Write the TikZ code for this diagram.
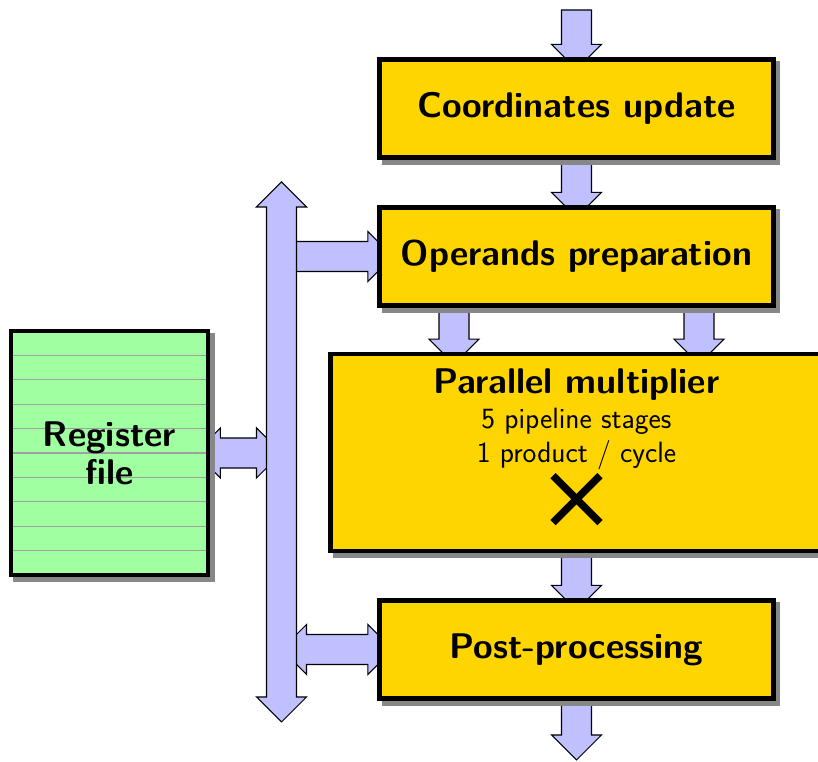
\documentclass[tikz,border=0pt]{standalone}
\usepackage{fontspec}
\usetikzlibrary{calc, shadows, backgrounds}
\definecolor{StageYellow}{RGB}{255, 213, 0}
\definecolor{RegGreen}{RGB}{160, 255, 160}
\definecolor{BusBlue}{RGB}{192, 192, 255}
\definecolor{RegLine}{RGB}{160, 160, 160}

\tikzset{
  stagetext/.style={font=\fontsize{20.3}{21.8}\selectfont\sffamily\bfseries},
  subtext/.style={font=\fontsize{16.7}{20}\selectfont\sffamily},
  stage/.style={rectangle, draw, line width=2.6pt, fill=StageYellow, stagetext,
    minimum width=7.87cm, minimum height=1.97cm,
    drop shadow={shadow xshift=0.09cm, shadow yshift=-0.09cm, fill=black!47, draw=black!47, opacity=1}},
  regbox/.style={stage, fill=RegGreen, align=center,
    minimum width=3.94cm, minimum height=4.88cm,
    path picture={
      \foreach \k in {1,...,9}
        \draw[RegLine, line width=0.6pt]
          ($(path picture bounding box.north west)!\k/10!(path picture bounding box.south west)$) --
          ($(path picture bounding box.north east)!\k/10!(path picture bounding box.south east)$);
    }},
  fat/.style={draw=black, line width=0.6pt, fill=BusBlue, line join=miter},
}

% wide arrow from #1 (tail) to #2 (tip)
\newcommand{\fatarrow}[2]{%
  \draw[fat] let \p1=(#1), \p2=(#2), \n1={atan2(\y2-\y1,\x2-\x1)},
      \n2={veclen(\x2-\x1,\y2-\y1)} in
    [shift={(\p1)}, rotate=\n1]
    (0cm,-0.3cm) -- ({\n2-0.5cm},-0.3cm) -- ({\n2-0.5cm},-0.5cm) -- (\n2,0cm) --
    ({\n2-0.5cm},0.5cm) -- ({\n2-0.5cm},0.3cm) -- (0cm,0.3cm) -- cycle;}

% wide arrow with a head at both ends
\newcommand{\fatarrowboth}[2]{%
  \draw[fat] let \p1=(#1), \p2=(#2), \n1={atan2(\y2-\y1,\x2-\x1)},
      \n2={veclen(\x2-\x1,\y2-\y1)} in
    [shift={(\p1)}, rotate=\n1]
    (0.5cm,-0.3cm) -- ({\n2-0.5cm},-0.3cm) -- ({\n2-0.5cm},-0.5cm) -- (\n2,0cm) --
    ({\n2-0.5cm},0.5cm) -- ({\n2-0.5cm},0.3cm) -- (0.5cm,0.3cm) -- (0.5cm,0.5cm) --
    (0cm,0cm) -- (0.5cm,-0.5cm) -- cycle;}

\begin{document}
\begin{tikzpicture}
  \useasboundingbox (0,0) rectangle (16.36,15.24);

  % pipeline stages
  \node[stage] (coord) at (11.53,13.07) {Coordinates update};
  \node[stage] (oper) at (11.53,10.11) {Operands preparation};
  \node[stage, minimum width=9.83cm, minimum height=3.94cm] (mult) at (11.53,6.19) {};
  \node[stage] (post) at (11.53,2.25) {Post-processing};

  % register file
  \node[regbox] (regfile) at (2.19,6.18) {Register\\file};

  % multiplier text
  \node[anchor=base, stagetext] (multname) at ($(mult.north)+(0,-0.83)$) {Parallel multiplier};
  \node[anchor=base, subtext] (multstages) at ($(mult.north)+(0,-1.54)$) {5 pipeline stages};
  \node[anchor=base, subtext] (multrate) at ($(mult.north)+(0,-2.22)$) {1 product / cycle};
  \draw[line width=4.2pt] ($(mult.north)+(-0.47,-2.48)$) -- ($(mult.north)+(0.47,-3.42)$);
  \draw[line width=4.2pt] ($(mult.north)+(0.47,-2.48)$) -- ($(mult.north)+(-0.47,-3.42)$);

  % bus and loose ends
  \coordinate (bustop) at (5.63,11.6);
  \coordinate (busbot) at (5.63,0.8);
  \coordinate (input) at (11.53,15.04);
  \coordinate (output) at (11.53,0.04);

  \begin{pgfonlayer}{background}
    % data flow through the stages
    \fatarrow{input}{$(coord.north)+(0,-0.25)$}
    \fatarrow{coord.center}{$(oper.north)+(0,-0.25)$}
    \fatarrow{$(oper.center)+(-2.45,0)$}{$(mult.north)+(-2.45,-0.25)$}
    \fatarrow{$(oper.center)+(2.45,0)$}{$(mult.north)+(2.45,-0.25)$}
    \fatarrow{mult.center}{$(post.north)+(0,-0.25)$}
    \fatarrow{post.center}{output}

    % bus taps
    \fatarrow{bustop |- oper}{$(oper.west)+(0.31,0)$}
    \fatarrowboth{$(regfile.east)+(-0.3,0)$}{bustop |- regfile}
    \fatarrowboth{bustop |- post}{$(post.west)+(0.31,0)$}

    % bus
    \fatarrowboth{busbot}{bustop}
  \end{pgfonlayer}
\end{tikzpicture}
\end{document}
